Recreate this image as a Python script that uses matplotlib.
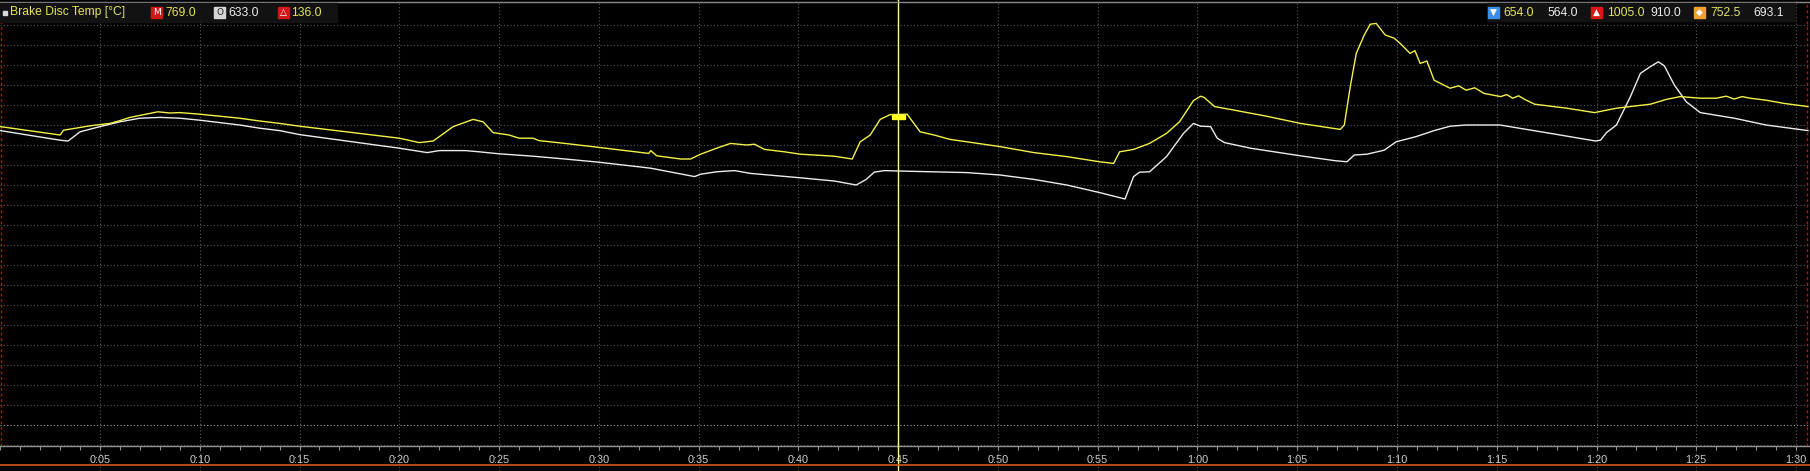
import matplotlib
matplotlib.use('Agg')
from matplotlib import pyplot as plt
from matplotlib.patches import Rectangle
from matplotlib.ticker import MultipleLocator, FuncFormatter

# time in seconds, brake disc temperature in degC
yellow_t = [0.0, 3.0, 3.17, 4.5, 5.5, 6.0, 6.5, 7.5, 7.9, 8.5, 9.0, 10.0, 11.0, 12.0, 13.0, 14.0, 15.0,
            20.0, 21.0, 21.7, 22.7, 23.7, 24.2, 24.7, 25.5, 26.0, 26.7, 27.0, 28.3, 30.0,
            32.5, 32.6, 32.9, 34.1, 34.6, 35.1, 35.9, 36.6, 37.4, 37.8, 38.3, 39.3, 40.1, 41.8, 42.7,
            43.1, 43.6, 44.1, 44.6, 45.45, 46.1, 46.8, 47.6, 48.45, 50.1, 51.8, 53.45, 55.1, 55.8,
            56.1, 56.8, 57.6, 58.45, 59.1, 59.8, 60.16, 60.33, 60.86, 61.86, 63.46, 65.16, 67.16,
            67.36, 67.66, 67.96, 68.36, 68.66, 68.96, 69.41, 69.86, 70.16, 70.66, 70.9, 71.16, 71.5,
            71.86, 72.66, 73.1, 73.46, 73.9, 74.36, 75.2, 75.5, 75.8, 76.1, 76.4, 76.9, 78.5, 79.9,
            81.0, 82.7, 83.5, 84.2, 85.2, 86.0, 86.5, 86.9, 87.3, 87.7, 88.5, 89.4, 90.6]
yellow_v = [746, 725, 737, 748, 754, 761, 769, 779, 783, 780, 781, 777, 772, 767, 760, 754, 747,
            717, 706, 710, 746, 764, 758, 731, 725, 717, 717, 711, 704, 694,
            679, 686, 673, 665, 665, 677, 692, 704, 700, 702, 689, 683, 677, 672, 665,
            708, 725, 764, 776, 777, 733, 725, 714, 708, 696, 681, 671, 658, 654,
            683, 689, 704, 729, 758, 811, 822, 819, 796, 787, 772, 754, 739,
            750, 846, 929, 975, 1002, 1004, 975, 967, 954, 929, 936, 904, 910,
            862, 842, 848, 837, 843, 829, 821, 826, 817, 823, 814, 802, 792, 781,
            792, 802, 814, 821, 817, 817, 822, 815, 821, 817, 812, 804, 796]

white_t = [0.0, 3.0, 3.4, 4.0, 5.0, 6.0, 7.0, 8.0, 9.0, 10.0, 11.0, 12.0, 13.0, 14.0, 15.0,
           20.0, 21.4, 22.0, 23.3, 24.0, 25.0, 26.7, 28.3, 30.0, 32.6, 34.8, 35.1, 35.9, 36.8,
           37.6, 40.1, 41.8, 42.9, 43.4, 43.8, 44.3, 45.0, 48.45, 50.1, 51.8, 53.45, 55.1, 56.37,
           56.8, 57.1, 57.6, 58.45, 59.3, 59.8, 60.16, 60.66, 60.99, 61.36, 62.66, 65.16, 66.86,
           67.49, 67.86, 68.49, 69.36, 69.96, 70.96, 71.86, 72.66, 73.46, 75.16, 77.7, 79.95,
           80.2, 80.5, 81.0, 81.7, 82.2, 82.7, 83.1, 83.4, 83.9, 84.5, 85.2, 86.9, 88.5, 90.6]
white_v = [736, 712, 710, 733, 746, 758, 767, 769, 767, 762, 756, 750, 742, 736, 726,
           692, 681, 686, 686, 683, 678, 672, 665, 657, 642, 621, 627, 633, 636,
           629, 618, 610, 600, 614, 632, 636, 635, 631, 625, 614, 600, 581, 565,
           621, 632, 633, 671, 729, 754, 747, 746, 717, 706, 692, 673, 661,
           658, 675, 677, 687, 708, 721, 736, 747, 750, 750, 729, 710,
           712, 731, 750, 821, 879, 896, 908, 898, 850, 808, 781, 767, 750, 736]

channel = "Brake Disc Temp [°C]"
cursor_t = 45.0
cursor_vals = ["769.0", "633.0", "136.0"]
stats_min = ["654.0", "564.0"]
stats_max = ["1005.0", "910.0"]
stats_avg = ["752.5", "693.1"]

W, H = 1810, 471
YEL = '#f2f24a'
YEL_TXT = '#e4e45c'
WHT = '#ececec'

fig = plt.figure(figsize=(W / 100, H / 100), dpi=100, facecolor='black')
ax = fig.add_axes([0, 25 / H, 1, 443 / H])
ax.set_facecolor('black')
ax.set_xlim(-0.0125, 90.70)
ax.set_ylim(-52.5, 1055)

dot = (0, (1, 2))
for v in range(-50, 1001, 50):
    c = '#a8a8a8' if v == 0 else '#5a5a5a'
    ax.axhline(v, color=c, lw=0.8, ls=dot, zorder=1)
for t in range(5, 91, 5):
    ax.axvline(t, ymin=-25 / 443, ymax=1, color='#5a5a5a', lw=0.8, ls=dot, clip_on=False, zorder=1)

ax.plot(white_t, white_v, color=WHT, lw=1.0, zorder=3)
ax.plot(yellow_t, yellow_v, color=YEL, lw=1.0, zorder=4)

# cursor
ax.axvline(cursor_t, ymin=-25 / 443, ymax=1.01, color='#ffffa8', lw=1.0, clip_on=False, zorder=5)
ax.add_patch(Rectangle((cursor_t - 0.33, float(cursor_vals[0]) - 4), 0.66, 9,
                       color='#ffff20', zorder=6))

# red edge markers
for t in [0.04, 90.57]:
    ax.axvline(t, color='#c01010', lw=1.0, ls=(0, (2, 2)), zorder=2)

for s in ['top', 'left', 'right']:
    ax.spines[s].set_visible(False)
ax.spines['bottom'].set_color('#909090')
ax.spines['bottom'].set_linewidth(1.0)
ax.set_yticks([])
ax.xaxis.set_major_locator(MultipleLocator(5))
ax.xaxis.set_minor_locator(MultipleLocator(1))
ax.xaxis.set_major_formatter(FuncFormatter(lambda x, p: "%d:%02d" % (int(x) // 60, int(x) % 60) if x > 0 else ""))
ax.tick_params(axis='x', which='both', colors='#909090', length=3, width=0.8, direction='out')
ax.tick_params(axis='x', which='major', labelcolor='#cfcfcf', labelsize=7.8, pad=3.5)
for lab in ax.get_xticklabels():
    lab.set_family('Liberation Sans')

# orange bottom rule and top gray rule
fig.add_artist(plt.Line2D([0, 1], [1 - 465 / H] * 2, color='#d05a1a', lw=1.2))
fig.add_artist(plt.Line2D([0, 1], [1 - 1.5 / H] * 2, color='#8a8a8a', lw=1.0))

def fx(px):
    return px / W

def fy(py):
    return 1 - py / H

def box(x0, y0, x1, y1, color, z=10):
    fig.add_artist(Rectangle((fx(x0), fy(y1)), (x1 - x0) / W, (y1 - y0) / H,
                             transform=fig.transFigure, color=color, zorder=z))

def txt(x, s, color, size=8.7, ha='left', family='Liberation Sans', y=12.5):
    fig.text(fx(x), fy(y), s, color=color, fontsize=size, ha=ha, va='center',
             family=family, zorder=12)

def icon(x0, color, glyph, gcolor='white'):
    box(x0, 7, x0 + 11, 18, color, z=11)
    txt(x0 + 5.5, glyph, gcolor, size=6.5, ha='center', family='DejaVu Sans', y=12.7)

# left header
box(0, 3, 337, 22, '#121212')
box(3, 11, 7, 15, '#d8d8d8', z=11)
txt(10, channel, YEL_TXT)
icon(151, '#d01818', 'M')
txt(165, cursor_vals[0], YEL_TXT)
icon(214, '#d6d6d6', 'O', gcolor='#202020')
txt(228, cursor_vals[1], WHT)
icon(278, '#d01818', '△')
txt(291, cursor_vals[2], YEL_TXT)

# right header
box(1487, 3, 1795, 21, '#121212')
icon(1488, '#3c8ee8', '▼')
txt(1503, stats_min[0], YEL_TXT)
txt(1547, stats_min[1], WHT)
icon(1591, '#d81818', '▲')
txt(1607, stats_max[0], YEL_TXT)
txt(1650, stats_max[1], WHT)
icon(1694, '#f0a030', '◆')
txt(1710, stats_avg[0], YEL_TXT)
txt(1753, stats_avg[1], WHT)

fig.savefig('out.png', dpi=100, facecolor='black')
plt.close(fig)
